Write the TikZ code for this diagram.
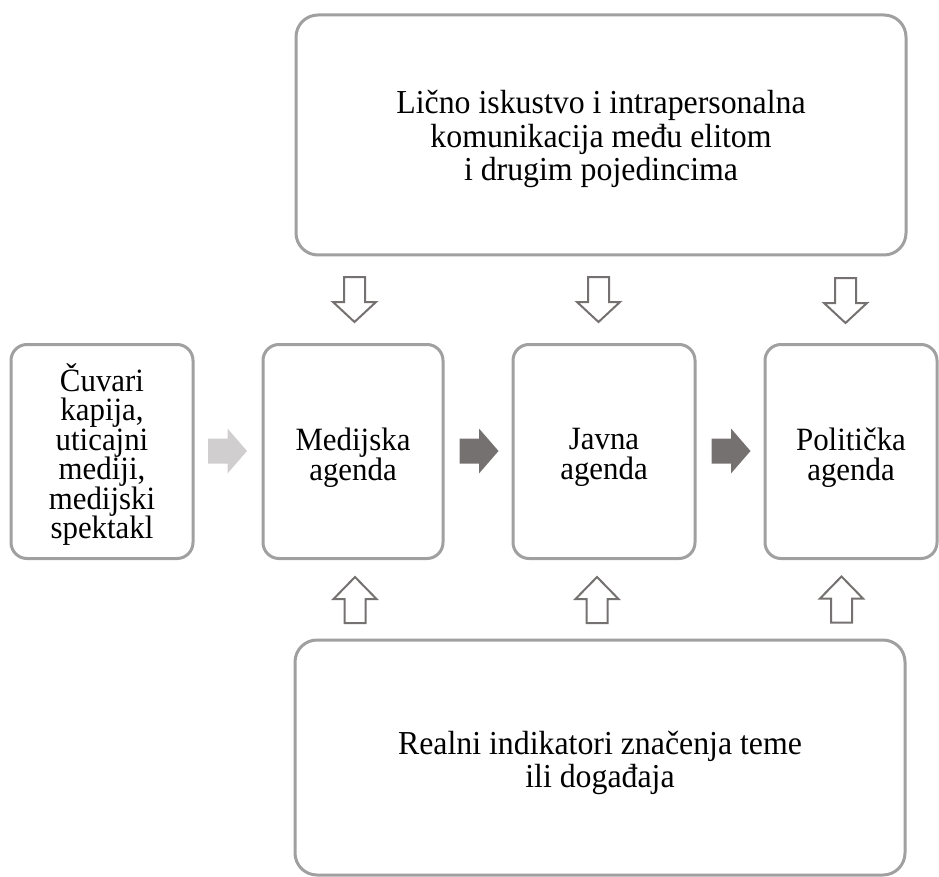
\documentclass[tikz,border=0pt]{standalone}
\usepackage{fontspec}
\setmainfont{Liberation Serif}[FakeStretch=0.95]
\definecolor{boxline}{HTML}{A0A0A0}
\definecolor{arrline}{HTML}{767171}
\definecolor{darkfill}{HTML}{767171}
\definecolor{lightfill}{HTML}{D0CECE}
\tikzset{
  bigbox/.style={draw=boxline, line width=3pt, rounded corners=22pt, fill=white,
    minimum width=610pt, inner sep=0pt},
  agbox/.style={draw=boxline, line width=3pt, rounded corners=16pt, fill=white,
    minimum height=214pt, inner sep=0pt},
  bigtext/.style={inner sep=0pt, align=center, font=\fontsize{33.5}{33.5}\selectfont},
  agtext/.style={inner sep=0pt, align=center, font=\fontsize{32.5}{29.5}\selectfont},
  outlinearrow/.style={draw=arrline, line width=2pt, fill=white, line join=miter},
  downarrow/.pic={\path[outlinearrow] (-10.5,-22.5) -- (10.5,-22.5) -- (10.5,2.5) -- (21.5,2.5) -- (0,22.5) -- (-21.5,2.5) -- (-10.5,2.5) -- cycle;},
  uparrow/.pic={\path[outlinearrow] (-10.5,23) -- (10.5,23) -- (10.5,-1) -- (21.5,-1) -- (0,-23) -- (-21.5,-1) -- (-10.5,-1) -- cycle;},
  rightarrow/.pic={\path[pic actions] (-19.5,-12.5) -- (0,-12.5) -- (0,-22.5) -- (19.5,0) -- (0,22.5) -- (0,12.5) -- (-19.5,12.5) -- cycle;},
}
\begin{document}
\begin{tikzpicture}[x=1pt,y=-1pt]
\useasboundingbox (0,0) rectangle (939,877);
% boxes
\node[bigbox, minimum height=240pt] (licno) at (601,135) {};
\node[bigbox, minimum height=235pt] (realni) at (600,757.5) {};
\node[agbox, minimum width=182pt] (cuvari) at (102,451.5) {};
\node[agbox, minimum width=180pt] (medijska) at (353,451.5) {};
\node[agbox, minimum width=182pt] (javna) at (604,451.5) {};
\node[agbox, minimum width=172pt] (politicka) at (851,451.5) {};
% texts
\node[bigtext] (licnoT) at ([yshift=-4pt]licno.center)
  {Lično iskustvo i intrapersonalna\\komunikacija među elitom\\i drugim pojedincima};
\node[bigtext] (realniT) at ([yshift=-5.5pt]realni.center)
  {Realni indikatori značenja teme\\ili događaja};
\node[agtext] (cuvariT) at ([yshift=-3pt]cuvari.center)
  {Čuvari\\kapija,\\uticajni\\mediji,\\medijski\\spektakl};
\node[agtext] (medijskaT) at ([yshift=-6pt]medijska.center) {Medijska\\agenda};
\node[agtext] (javnaT) at ([yshift=-6pt]javna.center) {Javna\\agenda};
\node[agtext] (politickaT) at ([yshift=-6pt]politicka.center) {Politička\\agenda};
% horizontal block arrows
\pic[fill=lightfill] at (227.5,451) {rightarrow};
\pic[fill=darkfill] at (479,451) {rightarrow};
\pic[fill=darkfill] at (731,451) {rightarrow};
% down arrows
\pic at (354.5,299.5) {downarrow};
\pic at (598.5,299.5) {downarrow};
\pic at (845.5,300.5) {downarrow};
% up arrows
\pic at (355,600) {uparrow};
\pic at (597,600) {uparrow};
\pic at (841.5,599.5) {uparrow};
\end{tikzpicture}
\end{document}
